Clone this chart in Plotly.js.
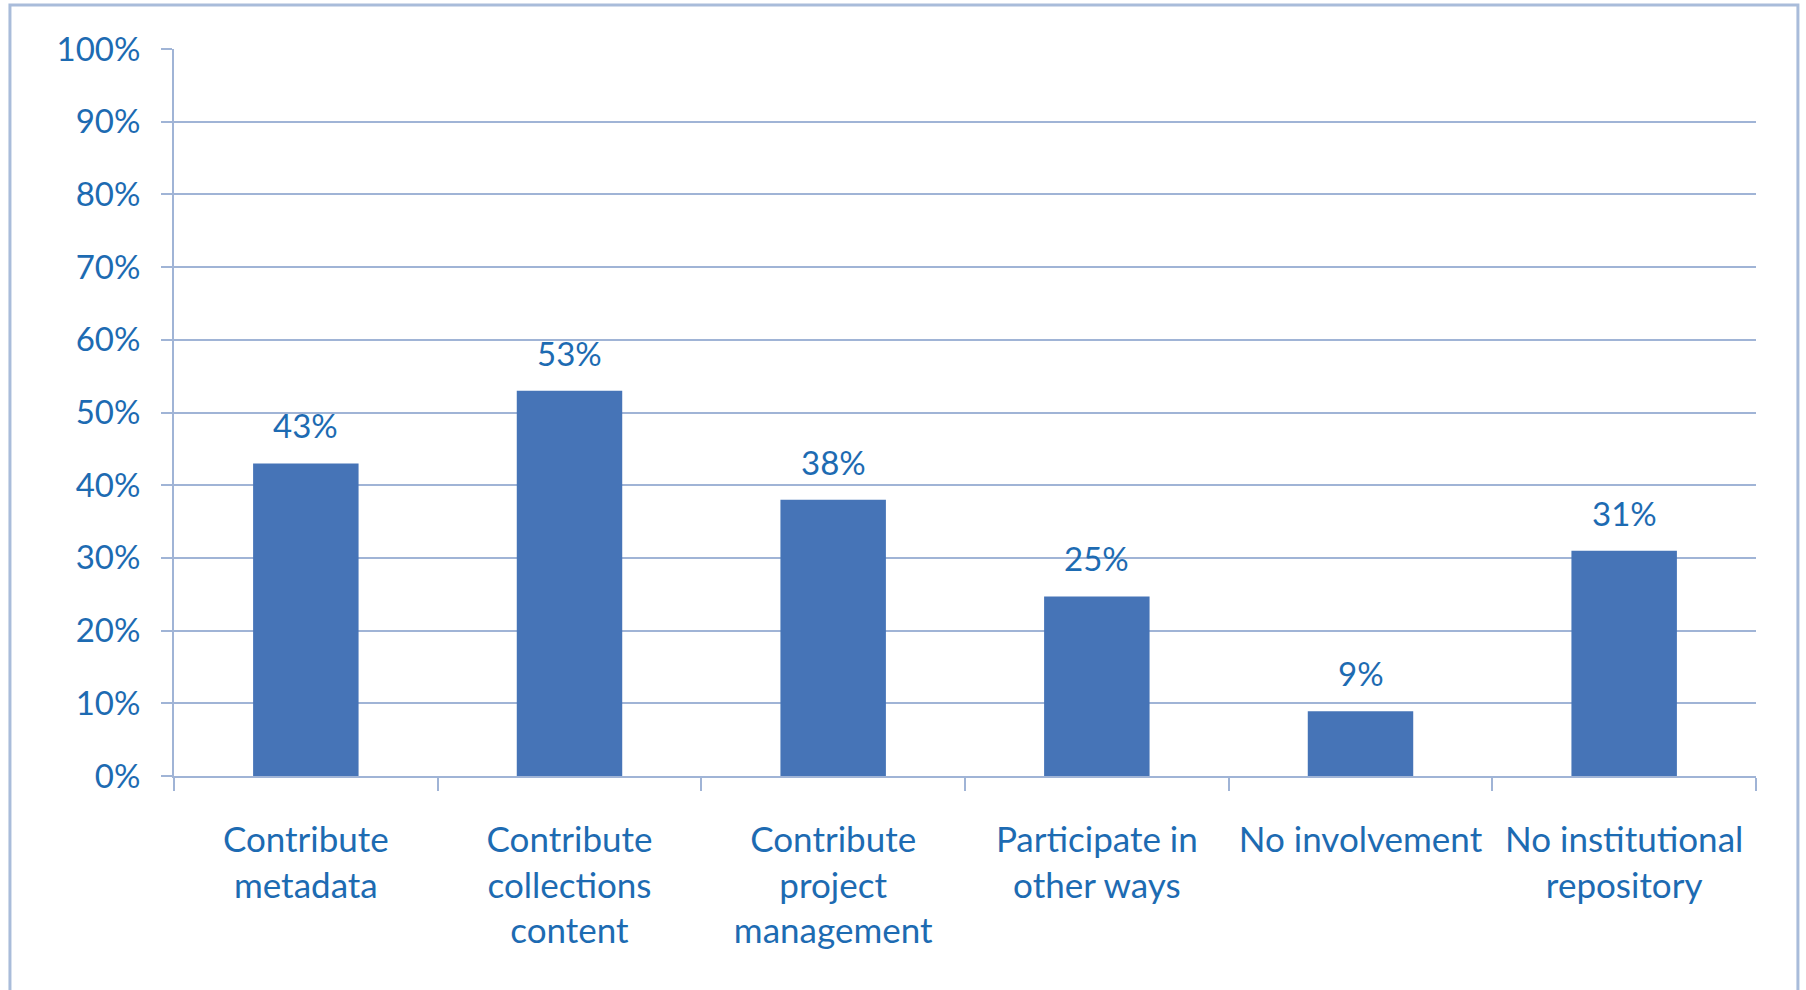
<!DOCTYPE html>
<html>
<head>
<meta charset="utf-8">
<script src="https://cdn.plot.ly/plotly-3.0.1.min.js"></script>
<style>
html,body{margin:0;padding:0;background:#fff;}
#chart{width:1806px;height:990px;}
</style>
</head>
<body>
<div id="chart"></div>
<script>
const categories = [
  "Contribute<br>metadata",
  "Contribute<br>collections<br>content",
  "Contribute<br>project<br>management",
  "Participate in<br>other ways",
  "No involvement",
  "No institutional<br>repository"
];
const values = [0.43, 0.53, 0.38, 0.247, 0.089, 0.31];
const yTickVals = [0, 0.1, 0.2, 0.3, 0.4, 0.5, 0.6, 0.7, 0.8, 0.9, 1.0];
const yTickText = ["0%", "10%", "20%", "30%", "40%", "50%", "60%", "70%", "80%", "90%", "100%"];

const textColor = "#1d6bb2";
const lineColor = "#a0b4d6";
const barColor = "#4674b7";
const fontFamily = "Lato, 'Open Sans', sans-serif";

const trace = {
  type: "bar",
  x: categories,
  y: values,
  marker: {color: barColor},
  hoverinfo: "none"
};

const annotations = categories.map((c, i) => ({
  x: c, y: values[i], xref: "x", yref: "y",
  text: Math.round(values[i] * 100) + "%",
  showarrow: false, yanchor: "bottom", yshift: 16,
  font: {family: fontFamily, size: 33, color: textColor}
}));

const layout = {
  width: 1806, height: 990,
  margin: {l: 174, r: 50, t: 49, b: 214},
  paper_bgcolor: "#ffffff",
  plot_bgcolor: "#ffffff",
  bargap: 0.6,
  showlegend: false,
  font: {family: fontFamily, size: 34, color: textColor},
  xaxis: {
    type: "category",
    showline: true, linecolor: lineColor, linewidth: 2,
    ticks: "outside", tickson: "boundaries", ticklen: 13, tickcolor: lineColor, tickwidth: 2,
    ticklabelstandoff: 32,
    tickfont: {family: fontFamily, size: 35, color: textColor},
    showgrid: false, fixedrange: true
  },
  yaxis: {
    range: [0, 1],
    tickvals: yTickVals, ticktext: yTickText,
    showline: true, linecolor: lineColor, linewidth: 2,
    ticks: "outside", ticklen: 11, tickcolor: lineColor, tickwidth: 2,
    showgrid: true, gridcolor: lineColor, gridwidth: 2,
    zeroline: false,
    ticklabelstandoff: 14,
    tickfont: {family: fontFamily, size: 33, color: textColor},
    fixedrange: true
  },
  annotations: annotations,
  shapes: [{
    type: "rect", xref: "paper", yref: "paper",
    x0: -0.1037, x1: 1.0265, y0: -0.6, y1: 1.0605,
    line: {color: "#a9bcda", width: 3},
    layer: "below"
  }]
};

Plotly.newPlot("chart", [trace], layout, {displayModeBar: false, staticPlot: true});
</script>
</body>
</html>
